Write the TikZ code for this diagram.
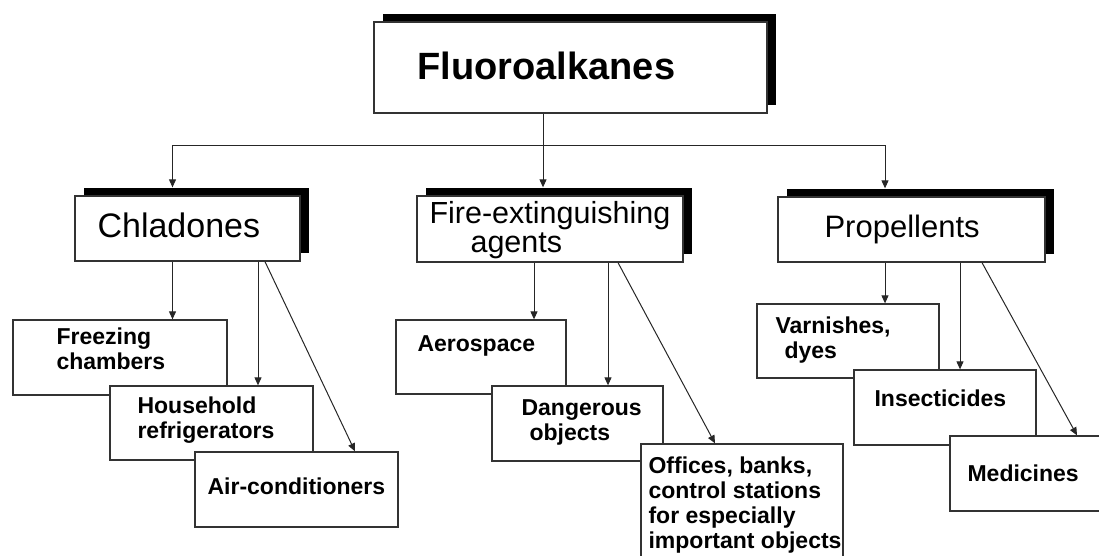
\documentclass[tikz,border=0pt]{standalone}
\usepackage{fontspec}
\setmainfont{Liberation Sans}
\usetikzlibrary{arrows.meta,positioning,shadows}

\tikzset{
  box/.style={draw=black!80,line width=1.3pt,fill=white,inner sep=0pt},
  shadowbox/.style={box,drop shadow={shadow xshift=9pt,shadow yshift=8pt,fill=black,opacity=1}},
  lbl/.style={inner sep=0pt,align=left,font=\bfseries\fontsize{23}{25}\selectfont},
  midlbl/.style={inner sep=0pt,align=left,font=\fontsize{31}{29}\selectfont},
  conn/.style={draw=black!85,line width=1pt},
  arr/.style={conn,-{Triangle[length=8pt,width=7pt]}}
}

\begin{document}
\begin{tikzpicture}[x=1pt,y=-1pt]
\useasboundingbox (0,0) rectangle (1099,555);
\clip (0,0) rectangle (1099,555);

% top and second level
\node[shadowbox,minimum width=393pt,minimum height=91pt] (fl) at (570.5,67.5) {};
\node[shadowbox,minimum width=225pt,minimum height=65pt] (chl) at (187.5,228.5) {};
\node[shadowbox,minimum width=266pt,minimum height=66pt] (fire) at (550,229) {};
\node[shadowbox,minimum width=267pt,minimum height=65pt] (prop) at (911.5,229.5) {};
\node[inner sep=0pt,font=\bfseries\fontsize{38}{40}\selectfont,below right=30pt and 44pt of fl.north west] (flt) {Fluoroalkanes};
\node[midlbl,font=\fontsize{34}{34}\selectfont,below right=17pt and 23pt of chl.north west] (chlt) {Chladones};
\node[midlbl,font=\fontsize{30.5}{29}\selectfont,below right=6pt and 13pt of fire.north west] (firet) {Fire-extinguishing\\\hspace*{41pt}agents};
\node[midlbl,below right=18pt and 47pt of prop.north west] (propt) {Propellents};

% third level, later boxes lie over earlier ones
\node[box,minimum width=214pt,minimum height=75pt] (fz) at (120,357.5) {};
\node[box,minimum width=203pt,minimum height=74pt] (hh) at (211.5,423) {};
\node[box,minimum width=203pt,minimum height=75pt] (ac) at (296.5,489.5) {};
\node[box,minimum width=170pt,minimum height=74pt] (aero) at (481,357) {};
\node[box,minimum width=171pt,minimum height=75pt] (dang) at (577.5,423.5) {};
\node[box,minimum width=202pt,minimum height=130pt] (off) at (742,509) {};
\node[box,minimum width=182pt,minimum height=74pt] (varn) at (848,341) {};
\node[box,minimum width=182pt,minimum height=75pt] (ins) at (945,407.5) {};
\node[box,minimum width=165pt,minimum height=75pt] (med) at (1032.5,473.5) {};

\node[lbl,below right=8pt and 44pt of fz.north west] (fzt) {Freezing\\chambers};
\node[lbl,below right=11pt and 28pt of hh.north west] (hht) {Household\\refrigerators};
\node[lbl,below right=26pt and 13pt of ac.north west] (act) {Air-conditioners};
\node[lbl,below right=16pt and 22pt of aero.north west] (aerot) {Aerospace};
\node[lbl,below right=14pt and 30pt of dang.north west] (dangt) {Dangerous\\\hspace*{8pt}objects};
\node[lbl,below right=13pt and 8pt of off.north west] (offt) {Offices, banks,\\control stations\\for especially\\important objects};
\node[lbl,below right=13pt and 19pt of varn.north west] (varnt) {Varnishes,\\\hspace*{9pt}dyes};
\node[lbl,below right=20pt and 21pt of ins.north west] (inst) {Insecticides};
\node[lbl,below right=29pt and 18pt of med.north west] (medt) {Medicines};

% connectors
\draw[conn] ([xshift=-27.5pt]fl.south) -- ++(0,32) coordinate (hub);
\draw[arr] (hub) -| ([xshift=-15pt,yshift=8pt]chl.north);
\draw[arr] (hub) -- ([xshift=-7pt,yshift=8pt]fire.north);
\draw[arr] (hub) -| ([xshift=-26.5pt,yshift=8pt]prop.north);

\draw[arr] ([xshift=-15pt]chl.south) -- ([xshift=-15pt]chl.south |- fz.north);
\draw[arr] ([xshift=70.5pt]chl.south) -- ([xshift=70.5pt]chl.south |- hh.north);
\draw[arr] ([xshift=77.5pt]chl.south) -- ([xshift=58.5pt]ac.north);

\draw[arr] ([xshift=-16pt]fire.south) -- ([xshift=-16pt]fire.south |- aero.north);
\draw[arr] ([xshift=58pt]fire.south) -- ([xshift=58pt]fire.south |- dang.north);
\draw[arr] ([xshift=68pt]fire.south) -- ([xshift=-27pt]off.north);

\draw[arr] ([xshift=-26.5pt]prop.south) -- ([xshift=-26.5pt]prop.south |- varn.north);
\draw[arr] ([xshift=48.5pt]prop.south) -- ([xshift=48.5pt]prop.south |- ins.north);
\draw[arr] ([xshift=70.5pt]prop.south) -- ([xshift=44.5pt]med.north);
\end{tikzpicture}
\end{document}
